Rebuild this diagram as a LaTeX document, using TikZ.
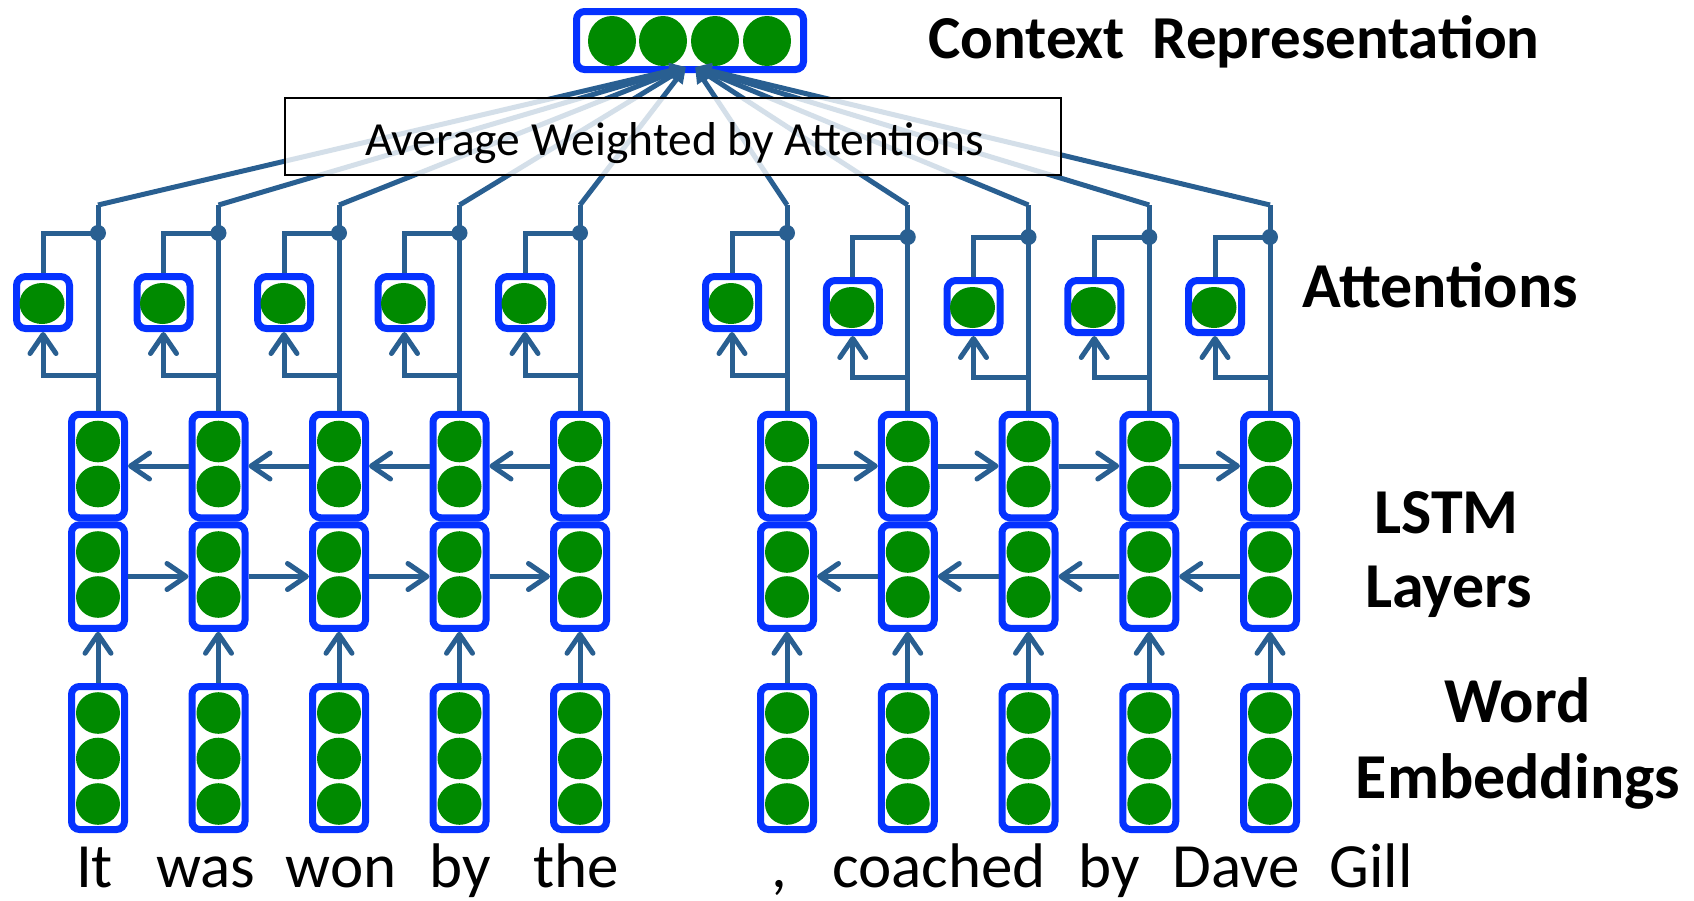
\documentclass[tikz,border=0pt]{standalone}
\usepackage{fontspec}
\setmainfont{Carlito}
\usetikzlibrary{arrows.meta}
\definecolor{lnc}{RGB}{41,95,145}
\definecolor{bxc}{RGB}{5,50,255}
\definecolor{grc}{RGB}{0,138,0}
\tikzset{
  conn/.style={draw=lnc, line width=5pt},
  barb/.style={-{Straight Barb[length=19pt,width=26pt,round]}},
  tri/.style={-{Triangle[length=16pt,width=15pt]}},
  cbox/.style={draw=bxc, line width=7pt, rounded corners=8pt, inner sep=0pt},
  lstmbox/.style={cbox, minimum width=53pt, minimum height=103.5pt},
  embbox/.style={cbox, minimum width=53pt, minimum height=143pt},
  attbox/.style={cbox, rounded corners=9pt, minimum width=53pt, minimum height=52pt},
  dotn/.style={circle, fill=lnc, minimum size=16pt, inner sep=0pt},
  lbl/.style={font=\fontsize{64}{64}\selectfont\bfseries, anchor=base, inner sep=0pt},
  wordlbl/.style={font=\fontsize{63}{63}\selectfont, anchor=base, inner sep=0pt},
}
\begin{document}
\begin{tikzpicture}[x=1pt,y=-1pt]
\useasboundingbox (0,0) rectangle (1694,900);

% context representation
\node[cbox, minimum width=227pt, minimum height=58pt] (ctx) at (690,40.5) {};
\foreach \cx in {612,663,715,767} \fill[grc] (\cx,41) ellipse (24pt and 25pt);
\coordinate (tL) at (686,67);
\coordinate (tR) at (695,67);

\foreach \i/\x/\dy in {1/98/0,2/218.5/0,3/339/0,4/459.5/0,5/580/0,6/787/0,7/907.75/4,8/1028.5/4,9/1149.25/4,10/1270/4} {
  % word embedding
  \node[embbox] (w\i) at (\x,758) {};
  \fill[grc] (\x,713) ellipse (22pt and 20.8pt);
  \fill[grc] (\x,758.5) ellipse (22pt and 20.8pt);
  \fill[grc] (\x,804) ellipse (22pt and 20.8pt);
  % lstm
  \node[lstmbox] (u\i) at (\x,466) {};
  \node[lstmbox] (l\i) at (\x,576.5) {};
  \fill[grc] (\x,441.5) ellipse (22pt and 20.8pt);
  \fill[grc] (\x,486.5) ellipse (22pt and 20.8pt);
  \fill[grc] (\x,552) ellipse (22pt and 20.8pt);
  \fill[grc] (\x,597) ellipse (22pt and 20.8pt);
  \draw[conn,barb] (w\i.north) -- (l\i.south);
  % attention
  \node[attbox] (a\i) at ({\x-55},{302.5+\dy}) {};
  \fill[grc] ({\x-56},{303.5+\dy}) ellipse (22.5pt and 20.5pt);
  \coordinate (k\i) at (\x,205);
  \coordinate (f\i) at (\x,{375+\dy/2});
  \draw[conn] (k\i |- u\i.north) -- (k\i);
  \node[dotn] (d\i) at (\x,{233+\dy}) {};
  \draw[conn] (d\i.center) -| (a\i.north);
  \draw[conn,barb] (f\i) -| (a\i.south);
}

% bidirectional lstm arrows
\foreach \i/\j in {1/2,2/3,3/4,4/5} {
  \draw[conn,barb] (u\j.west) -- (u\i.east);
  \draw[conn,barb] (l\i.east) -- (l\j.west);
}
\foreach \i/\j in {6/7,7/8,8/9,9/10} {
  \draw[conn,barb] (u\i.east) -- (u\j.west);
  \draw[conn,barb] (l\j.west) -- (l\i.east);
}

% lines to the context representation
\foreach \i in {1,2,3,4,5} \draw[conn,tri,line join=round] (k\i) -- (tL);
\foreach \i in {6,7,8,9,10} \draw[conn,tri,line join=round] (k\i) -- (tR);

% averaging box
\node[draw=black, line width=1.5pt, fill=white, fill opacity=0.8, minimum width=776pt, minimum height=77pt, inner sep=0pt] (avg) at (673,136.5) {};
\node[font=\fontsize{47.5}{47.5}\selectfont, anchor=base, inner sep=0pt] (avgt) at (674.5,155) {Average Weighted by Attentions};

% labels
\node[lbl, font=\fontsize{61}{61}\selectfont\bfseries] (lctx) at (1234,58) {Context\ \ Representation};
\node[lbl] (latt) at (1440,307) {Attentions};
\node[lbl] (llstm) at (1446.5,533) {LSTM};
\node[lbl] (llay) at (1448.5,607) {Layers};
\node[lbl] (lword) at (1517.5,722) {Word};
\node[lbl] (lemb) at (1518,798) {Embeddings};

% words
\node[wordlbl] (t1) at (94.5,887) {It};
\node[wordlbl] (t2) at (206,887) {was};
\node[wordlbl] (t3) at (341,887) {won};
\node[wordlbl] (t4) at (460,887) {by};
\node[wordlbl] (t5) at (576,887) {the};
\node[wordlbl] (t6) at (779.5,887) {,};
\node[wordlbl] (t7) at (939,887) {coached};
\node[wordlbl] (t8) at (1109,887) {by};
\node[wordlbl] (t9) at (1236,887) {Dave};
\node[wordlbl] (t10) at (1371,887) {Gill};
\end{tikzpicture}
\end{document}
